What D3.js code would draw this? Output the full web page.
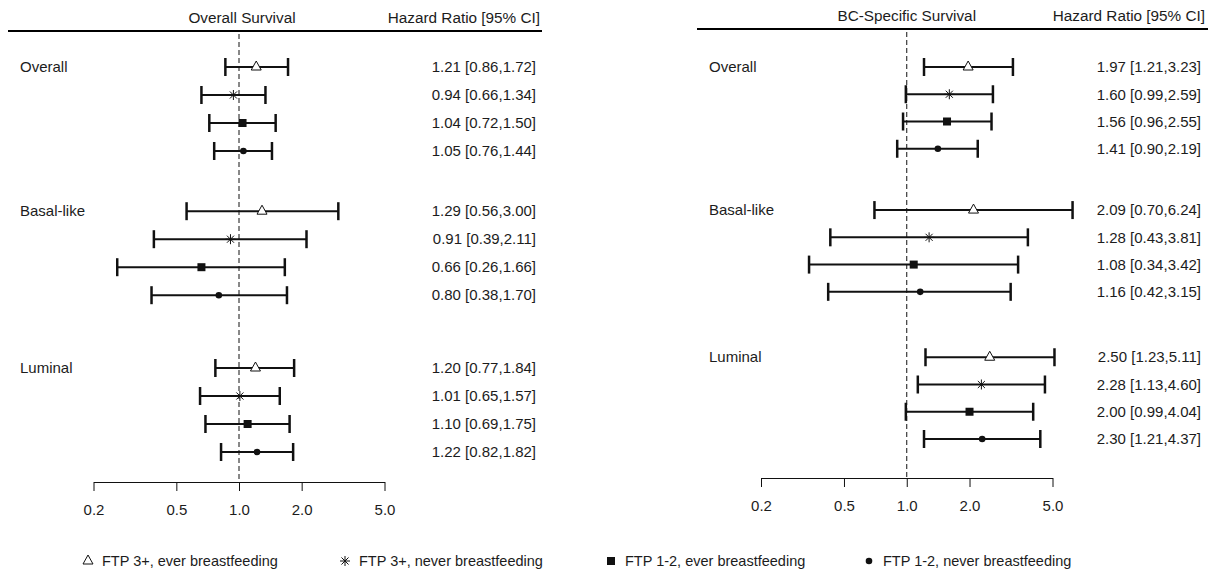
<!DOCTYPE html>
<html>
<head>
<meta charset="utf-8">
<script src="https://cdn.jsdelivr.net/npm/d3@7"></script>
<style>
  html, body { margin: 0; padding: 0; background: #fff; }
  svg { display: block; font-family: "Liberation Sans", Arial, sans-serif; }
  text { fill: #1c1c1c; }
</style>
</head>
<body>
<svg id="chart" width="1217" height="573"></svg>
<script>
// Subgroups shown in each panel, top to bottom
const groups = ["Overall", "Basal-like", "Luminal"];

// Exposure categories (one row per category inside each subgroup)
const seriesNames = [
  "FTP 3+, ever breastfeeding",
  "FTP 3+, never breastfeeding",
  "FTP 1-2, ever breastfeeding",
  "FTP 1-2, never breastfeeding"
];
const seriesSymbols = ["triangle", "asterisk", "square", "circle"];

// Axis ticks (log scale)
const tickValues = [0.2, 0.5, 1, 2, 5];

// Overall survival: hazard ratios and 95% CI, rows ordered by group then category
const osHR    = [1.21, 0.94, 1.04, 1.05, 1.29, 0.91, 0.66, 0.80, 1.20, 1.01, 1.10, 1.22];
const osLower = [0.86, 0.66, 0.72, 0.76, 0.56, 0.39, 0.26, 0.38, 0.77, 0.65, 0.69, 0.82];
const osUpper = [1.72, 1.34, 1.50, 1.44, 3.00, 2.11, 1.66, 1.70, 1.84, 1.57, 1.75, 1.82];

// Breast-cancer-specific survival
const bcHR    = [1.97, 1.60, 1.56, 1.41, 2.09, 1.28, 1.08, 1.16, 2.50, 2.28, 2.00, 2.30];
const bcLower = [1.21, 0.99, 0.96, 0.90, 0.70, 0.43, 0.34, 0.42, 1.23, 1.13, 0.99, 1.21];
const bcUpper = [3.23, 2.59, 2.55, 2.19, 6.24, 3.81, 3.42, 3.15, 5.11, 4.60, 4.04, 4.37];

const panels = [
  {
    title: "Overall Survival", hr: osHR, lower: osLower, upper: osUpper,
    layout: { xRange: [93.5, 384.5], axisY: 482, rowRange: [67, 452], groupSlots: [0, 5.15, 10.75],
              ruleX: [8, 542], ruleY: 31, titleY: 23, titleShift: 3, labelX: 20,
              headRight: 540, valueRight: 536, tickPad: 13 }
  },
  {
    title: "BC-Specific Survival", hr: bcHR, lower: bcLower, upper: bcUpper,
    layout: { xRange: [761, 1052.5], axisY: 478, rowRange: [67, 439], groupSlots: [0, 5.25, 10.65],
              ruleX: [697, 1208], ruleY: 29, titleY: 21, titleShift: 0, labelX: 709,
              headRight: 1205, valueRight: 1201, tickPad: 13 }
  }
];

const svg = d3.select("#chart");
const fontSize = 15;
const headSize = 15.3;
const legendSize = 14.5;
const fmt = d3.format(".2f");

// Marker drawing helper
function drawMarker(sel, kind, cx, cy, s) {
  if (kind === "triangle") {
    const h = s * 0.9;
    sel.append("path")
      .attr("d", `M${cx - s / 2},${cy + h / 3}L${cx + s / 2},${cy + h / 3}L${cx},${cy - 2 * h / 3}Z`)
      .attr("fill", "#fff").attr("stroke", "#111").attr("stroke-width", 1);
  } else if (kind === "asterisk") {
    const r = s / 2, d = r * Math.SQRT1_2;
    sel.append("path")
      .attr("d", `M${cx - r},${cy}L${cx + r},${cy}M${cx},${cy - r}L${cx},${cy + r}` +
                 `M${cx - d},${cy - d}L${cx + d},${cy + d}M${cx - d},${cy + d}L${cx + d},${cy - d}`)
      .attr("fill", "none").attr("stroke", "#111").attr("stroke-width", 1);
  } else if (kind === "square") {
    const a = s * 0.8;
    sel.append("rect").attr("x", cx - a / 2).attr("y", cy - a / 2)
      .attr("width", a).attr("height", a).attr("fill", "#111");
  } else {
    sel.append("circle").attr("cx", cx).attr("cy", cy).attr("r", s * 0.33).attr("fill", "#111");
  }
}

panels.forEach(p => {
  const L = p.layout;
  const g = svg.append("g");

  const x = d3.scaleLog().domain([0.2, 5]).range(L.xRange);
  const lastSlot = L.groupSlots[L.groupSlots.length - 1] + seriesNames.length - 1;
  const y = d3.scaleLinear().domain([0, lastSlot]).range(L.rowRange);

  const rows = p.hr.map((hr, i) => {
    const gi = Math.floor(i / seriesNames.length);
    const si = i % seriesNames.length;
    return { hr, lo: p.lower[i], hi: p.upper[i], gi, si, slot: L.groupSlots[gi] + si };
  });

  // Header titles and rule
  g.append("text").attr("x", x(1) + L.titleShift).attr("y", L.titleY)
    .attr("text-anchor", "middle").attr("font-size", headSize).text(p.title);
  g.append("text").attr("x", L.headRight).attr("y", L.titleY)
    .attr("text-anchor", "end").attr("font-size", headSize).text("Hazard Ratio [95% CI]");
  g.append("line").attr("x1", L.ruleX[0]).attr("x2", L.ruleX[1])
    .attr("y1", L.ruleY).attr("y2", L.ruleY)
    .attr("stroke", "#000").attr("stroke-width", 2);

  // Reference line at HR = 1
  g.append("line").attr("x1", x(1)).attr("x2", x(1))
    .attr("y1", L.ruleY + 3).attr("y2", L.axisY)
    .attr("stroke", "#111").attr("stroke-width", 1).attr("stroke-dasharray", "5,3");

  // Subgroup labels
  g.selectAll(".glabel").data(groups).join("text")
    .attr("x", L.labelX).attr("y", (d, i) => y(L.groupSlots[i]))
    .attr("dy", "0.35em").attr("font-size", fontSize).text(d => d);

  // Confidence intervals
  const ci = g.selectAll(".ci").data(rows).join("g");
  ci.append("line")
    .attr("x1", d => x(d.lo)).attr("x2", d => x(d.hi))
    .attr("y1", d => y(d.slot)).attr("y2", d => y(d.slot))
    .attr("stroke", "#111").attr("stroke-width", 2);
  ["lo", "hi"].forEach(k => {
    ci.append("line")
      .attr("x1", d => x(d[k])).attr("x2", d => x(d[k]))
      .attr("y1", d => y(d.slot) - 9).attr("y2", d => y(d.slot) + 9)
      .attr("stroke", "#111").attr("stroke-width", 2.5);
  });
  ci.each(function (d) {
    drawMarker(d3.select(this), seriesSymbols[d.si], x(d.hr), y(d.slot), 10);
  });

  // Estimate text column
  g.selectAll(".val").data(rows).join("text")
    .attr("x", L.valueRight).attr("y", d => y(d.slot)).attr("dy", "0.35em")
    .attr("text-anchor", "end").attr("font-size", fontSize)
    .text(d => `${fmt(d.hr)} [${fmt(d.lo)},${fmt(d.hi)}]`);

  // Log axis
  const axis = d3.axisBottom(x).tickValues(tickValues).tickFormat(d3.format(".1f"))
    .tickSize(9).tickSizeOuter(0).tickPadding(L.tickPad);
  const ax = g.append("g").attr("transform", `translate(0,${L.axisY})`).call(axis);
  ax.select(".domain").attr("stroke", "#111");
  ax.selectAll(".tick line").attr("stroke", "#111");
  ax.selectAll(".tick text").attr("font-size", fontSize)
    .attr("font-family", "Liberation Sans, Arial, sans-serif").attr("fill", "#1c1c1c");
});

// Legend
const legendX = [88, 345, 611, 869];
const legendY = 561;
const legend = svg.append("g");
seriesNames.forEach((name, i) => {
  const item = legend.append("g");
  drawMarker(item, seriesSymbols[i], legendX[i], legendY, 10);
  item.append("text").attr("x", legendX[i] + 14).attr("y", legendY).attr("dy", "0.35em")
    .attr("font-size", legendSize).text(name);
});
</script>
</body>
</html>
